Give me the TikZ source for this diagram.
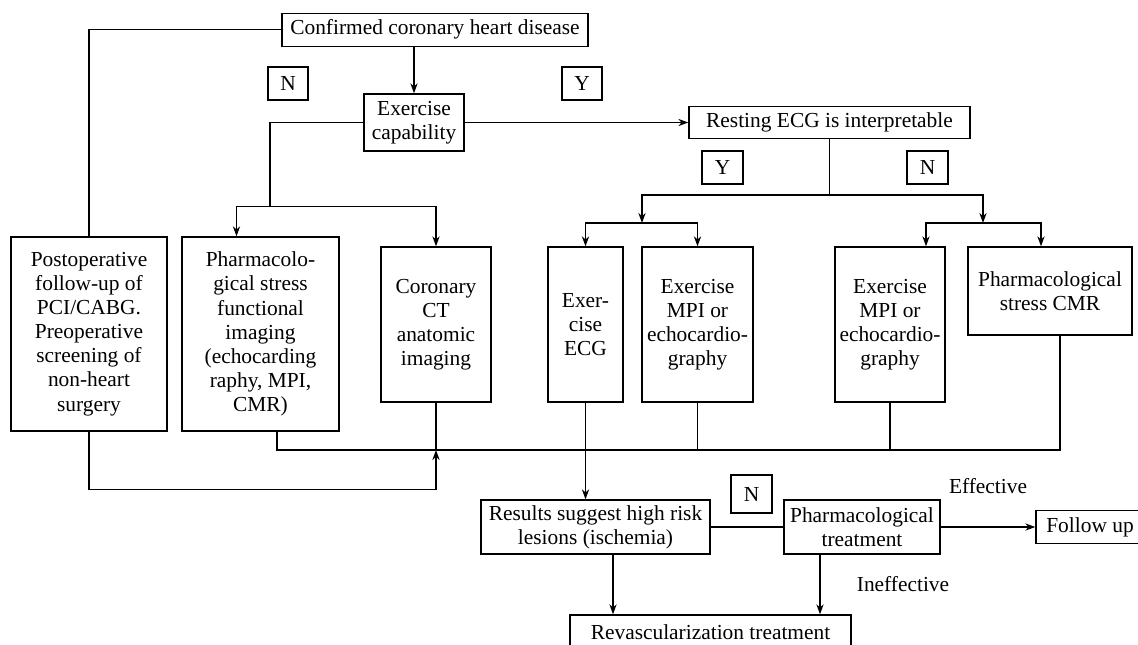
\documentclass[tikz,border=0pt]{standalone}
\usepackage{fontspec}
\setmainfont{Liberation Serif}
\usetikzlibrary{arrows.meta}
\begin{document}
\begin{tikzpicture}[x=0.5pt, y=-0.5pt, line width=0.7pt, >={Stealth[length=5pt,width=3.6pt]},
    every node/.style={align=center, inner sep=0pt, font=\fontsize{10.7pt}{12.05pt}\selectfont},
    box/.style={rectangle, draw}]
    \useasboundingbox (0,0) rectangle (1138,644);

    \node (chd) [box, minimum width=153pt, minimum height=16.5pt] at (435,29.75) {Confirmed coronary heart disease};
    \node (cap) [box, minimum width=50pt, minimum height=28.5pt] at (414,122.5) {Exercise\\capability};
    \node (n1) [box, minimum width=20pt, minimum height=16.5pt] at (288,83.5) {N};
    \node (y1) [box, minimum width=20pt, minimum height=16.5pt] at (582,83.5) {Y};
    \node (ecg) [box, minimum width=140.5pt, minimum height=16pt] at (829.5,122.5) {Resting ECG is interpretable};
    \node (y2) [box, minimum width=20.5pt, minimum height=16.5pt] at (722.5,167.5) {Y};
    \node (n2) [box, minimum width=20.5pt, minimum height=16.5pt] at (927.5,167.5) {N};

    \node (postop) [box, minimum width=78pt, minimum height=97pt] at (89,334) {Postoperative\\follow-up of\\PCI/CABG.\\Preoperative\\screening of\\non-heart\\surgery};
    \node (pharm) [box, minimum width=78.5pt, minimum height=97pt] at (260.5,334) {Pharmacolo-\\gical stress\\functional\\imaging\\(echocarding\\raphy, MPI,\\CMR)};
    \node (cct) [box, minimum width=55pt, minimum height=77.5pt] at (436,324.5) {Coronary\\CT\\anatomic\\imaging};
    \node (execg) [box, minimum width=37.5pt, minimum height=77.5pt] at (585.5,324.5) {Exer-\\cise\\ECG};
    \node (empia) [box, minimum width=55.5pt, minimum height=77.5pt] at (697.5,324.5) {Exercise\\MPI or\\echocardio-\\graphy};
    \node (empib) [box, minimum width=55pt, minimum height=77.5pt] at (890,324.5) {Exercise\\MPI or\\echocardio-\\graphy};
    \node (pcmr) [box, minimum width=82pt, minimum height=44pt] at (1050,291) {Pharmacological\\stress CMR};

    \node (risk) [box, minimum width=114.5pt, minimum height=27pt] at (595.5,527) {Results suggest high risk\\lesions (ischemia)};
    \node (n3) [box, minimum width=20.5pt, minimum height=19pt] at (751.5,494) {N};
    \node (drug) [box, minimum width=78pt, minimum height=27pt] at (862,527) {Pharmacological\\treatment};
    \node (fup) [box, minimum width=54pt, minimum height=16.5pt] at (1090,527) {Follow up};
    \node (revasc) [box, minimum width=140.5pt, minimum height=17pt] at (710.5,632) {Revascularization treatment};

    \coordinate (capno) at (270,206.5);
    \coordinate (ecgfork) at (829.5,195);
    \coordinate (ecgyes) at (642,223);
    \coordinate (ecgno) at (983,223);
    \coordinate (bus) at (277,450);
    \coordinate (loop) at (89,489.5);

    \draw (chd.west) -| (postop.north);
    \draw[->] (cap.north |- chd.south) -- (cap.north);
    \draw[->] (cap.east) -- (ecg.west);
    \draw (cap.west) -| (capno);
    \draw[->] (capno) -| ([xshift=-12pt]pharm.north);
    \draw[->] (capno) -| (cct.north);

    \draw (ecg.south) -- (ecgfork);
    \draw[->] (ecgfork) -| (ecgyes);
    \draw[->] (ecgfork) -| (ecgno);
    \draw[->] (ecgyes) -| (execg.north);
    \draw[->] (ecgyes) -| (empia.north);
    \draw[->] (ecgno) -| ([xshift=18pt]empib.north);
    \draw[->] (ecgno) -| ([xshift=-4.5pt]pcmr.north);

    \draw (pharm.south -| bus) -- (bus) -| ([xshift=5pt]pcmr.south);
    \draw (cct.south) -- (cct.south |- bus);
    \draw (empia.south) -- (empia.south |- bus);
    \draw (empib.south) -- (empib.south |- bus);
    \draw[->] (postop.south) -- (loop) -| (cct.south |- bus);
    \draw[->] (execg.south) -- (execg.south |- risk.north);

    \draw (risk.east) -- (drug.west);
    \draw[->] (drug.east) -- node[yshift=20.5pt] {Effective} (fup.west);
    \draw[->] ([xshift=8.75pt]risk.south) -- ([xshift=8.75pt]risk.south |- revasc.north);
    \draw[->] ([xshift=-21pt]drug.south) -- node[xshift=41.5pt] {Ineffective} ([xshift=-21pt]drug.south |- revasc.north);
\end{tikzpicture}
\end{document}
